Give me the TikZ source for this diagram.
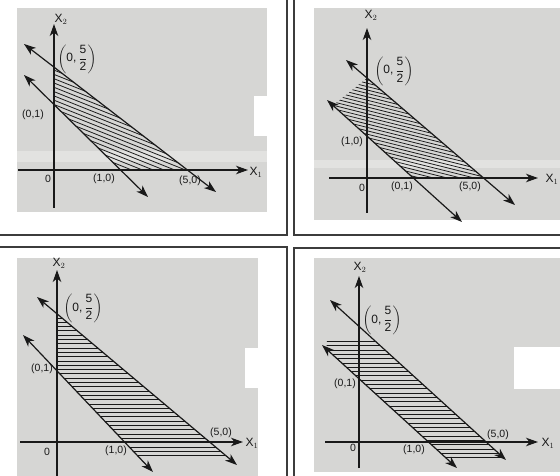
\documentclass[tikz,border=0pt]{standalone}
\usepackage{amsmath}
\usepackage{fontspec}
\setmainfont{Liberation Sans}
\usetikzlibrary{arrows.meta}
\definecolor{bgc}{RGB}{214,214,212}
\definecolor{bandc}{RGB}{226,226,224}
\definecolor{framec}{RGB}{60,60,60}
\definecolor{inkc}{RGB}{25,25,25}
\tikzset{
  tipx/.tip={Stealth[length=12pt,width=8.5pt,inset=3.5pt]},
  axisline/.style={line width=1.3pt,draw=inkc,-tipx},
  bndline/.style={line width=1.2pt,draw=inkc,tipx-tipx},
  hatchline/.style={line width=0.75pt,draw=inkc},
  framel/.style={line width=1.5pt,draw=framec},
  lab/.style={font=\fontsize{10.5}{11}\selectfont,inner sep=0pt,text=inkc},
  axlab/.style={font=\fontsize{12}{13}\selectfont,inner sep=0pt,text=inkc},
  fraclab/.style={font=\fontsize{12}{13}\selectfont,inner sep=0pt,text=inkc}
}
\newcommand{\fivehalf}{$\left(\text{0,}\,\dfrac{\text{5}}{\text{2}}\right)$}
\begin{document}
\begin{tikzpicture}[x=1pt,y=-1pt]
\useasboundingbox (0,0) rectangle (560,476);
\fill[white] (0,0) rectangle (560,476);
% ---------------- backgrounds ----------------
\fill[bgc] (17,8) rectangle (267,212);
\fill[bandc] (17,151) rectangle (267,162);
\fill[white] (254,96) rectangle (268,136);
\fill[bgc] (314,8) rectangle (560,220);
\fill[bandc] (314,160) rectangle (560,168);
\fill[bgc] (17,258) rectangle (258,476);
\fill[white] (245,348) rectangle (259,388);
\fill[bgc] (314,258) rectangle (560,472);
\fill[white] (514,347) rectangle (560,389);
% ---------------- frames ----------------
\draw[framel] (0,235) -- (287,235) -- (287,0);
\draw[framel] (560,235) -- (294,235) -- (294,0);
\draw[framel] (0,247) -- (287,247) -- (287,476);
\draw[framel] (560,248) -- (294,248) -- (294,476);

% ================= Panel 1 =================
\coordinate (a1b) at (54,208);
\coordinate (a1t) at (54,24);
\coordinate (a1l) at (18,170);
\coordinate (a1r) at (248,170);
\coordinate (o1s) at (24,44);
\coordinate (o1e) at (216,192);
\coordinate (i1s) at (24,75);
\coordinate (i1e) at (148,197);
\coordinate (p1a) at (intersection of o1s--o1e and a1b--a1t);
\coordinate (p1b) at (intersection of o1s--o1e and a1l--a1r);
\coordinate (p1c) at (intersection of i1s--i1e and a1l--a1r);
\coordinate (p1d) at (intersection of i1s--i1e and a1b--a1t);
\begin{scope}
\clip (p1a) -- (p1b) -- (p1c) -- (p1d) -- cycle;
\foreach \k in {-10,...,60} \draw[hatchline] (40,{\k*4.3}) -- ++(220,88);
\end{scope}
\draw[axisline] (a1b) -- (a1t);
\draw[axisline] (a1l) -- (a1r);
\draw[bndline] (o1s) -- (o1e);
\draw[bndline] (i1s) -- (i1e);
\node[axlab] (x2a) at (61,19) {X$_2$};
\node[axlab] (x1a) at (256,172) {X$_1$};
\node[fraclab] (f1) at (77,59) {\fivehalf};
\node[lab] (q1) at (33,115) {(0,1)};
\node[lab] (z1) at (48,179) {0};
\node[lab] (r1) at (104,179) {(1,0)};
\node[lab] (s1) at (190,181) {(5,0)};

% ================= Panel 2 =================
\coordinate (a2b) at (367,213);
\coordinate (a2t) at (367,28);
\coordinate (a2l) at (329,178);
\coordinate (a2r) at (538,178);
\coordinate (o2s) at (346,60);
\coordinate (o2e) at (515,205);
\coordinate (i2s) at (327,100);
\coordinate (i2e) at (462,222);
\coordinate (v2a) at (333,0);
\coordinate (v2b) at (333,300);
\coordinate (p2a) at (intersection of o2s--o2e and a2b--a2t);
\coordinate (p2b) at (intersection of o2s--o2e and a2l--a2r);
\coordinate (p2c) at (intersection of i2s--i2e and a2l--a2r);
\coordinate (p2d) at (intersection of i2s--i2e and v2a--v2b);
\begin{scope}
\clip (p2a) -- (p2b) -- (p2c) -- (p2d) -- cycle;
\foreach \k in {-10,...,70} \draw[hatchline] (320,{\k*3.4}) -- ++(220,55);
\end{scope}
\draw[axisline] (a2b) -- (a2t);
\draw[axisline] (a2l) -- (a2r);
\draw[bndline] (o2s) -- (o2e);
\draw[bndline] (i2s) -- (i2e);
\node[axlab] (x2b) at (371,15) {X$_2$};
\node[axlab] (x1b) at (552,179) {X$_1$};
\node[fraclab] (f2) at (394,71) {\fivehalf};
\node[lab] (q2) at (352,142) {(1,0)};
\node[lab] (z2) at (362,188) {0};
\node[lab] (r2) at (402,187) {(0,1)};
\node[lab] (s2) at (470,187) {(5,0)};

% ================= Panel 3 =================
\coordinate (a3b) at (57,476);
\coordinate (a3t) at (57,270);
\coordinate (a3l) at (20,442);
\coordinate (a3r) at (243,442);
\coordinate (o3s) at (37,297);
\coordinate (o3e) at (237,465);
\coordinate (i3s) at (23,335);
\coordinate (i3e) at (153,472);
\coordinate (h3l) at (0,457);
\coordinate (h3r) at (300,457);
\coordinate (p3a) at (intersection of o3s--o3e and a3b--a3t);
\coordinate (p3b) at (intersection of o3s--o3e and h3l--h3r);
\coordinate (p3c) at (intersection of i3s--i3e and h3l--h3r);
\coordinate (p3d) at (intersection of i3s--i3e and a3b--a3t);
\begin{scope}
\clip (p3a) -- (p3b) -- (p3c) -- (p3d) -- cycle;
\foreach \k in {0,...,40} \draw[hatchline] (40,{313.6+\k*4.3}) -- (260,{313.6+\k*4.3});
\end{scope}
\draw[axisline] (a3b) -- (a3t);
\draw[axisline] (a3l) -- (a3r);
\draw[bndline] (o3s) -- (o3e);
\draw[bndline] (i3s) -- (i3e);
\node[axlab] (x2c) at (59,263) {X$_2$};
\node[axlab] (x1c) at (252,443) {X$_1$};
\node[fraclab] (f3) at (83,308) {\fivehalf};
\node[lab] (q3) at (42,369) {(0,1)};
\node[lab] (z3) at (47,452) {0};
\node[lab] (r3) at (116,451) {(1,0)};
\node[lab] (s3) at (221,433) {(5,0)};

% ================= Panel 4 =================
\coordinate (a4b) at (359,468);
\coordinate (a4t) at (359,276);
\coordinate (a4l) at (325,442);
\coordinate (a4r) at (538,442);
\coordinate (o4s) at (330,300);
\coordinate (o4e) at (506,460);
\coordinate (i4s) at (322,345);
\coordinate (i4e) at (457,468);
\coordinate (h4a) at (300,341);
\coordinate (h4b) at (560,341);
\coordinate (h4c) at (300,458);
\coordinate (h4d) at (560,458);
\coordinate (h4e) at (300,349);
\coordinate (h4f) at (560,349);
\coordinate (p4a) at (intersection of o4s--o4e and h4a--h4b);
\coordinate (p4b) at (intersection of o4s--o4e and h4c--h4d);
\coordinate (p4c) at (intersection of i4s--i4e and h4c--h4d);
\coordinate (p4d) at (intersection of i4s--i4e and h4e--h4f);
\coordinate (p4e) at (327,341);
\begin{scope}
\clip (p4a) -- (p4b) -- (p4c) -- (p4d) -- (p4e) -- cycle;
\foreach \k in {0,...,40} \draw[hatchline] (300,{341.4+\k*4.3}) -- (560,{341.4+\k*4.3});
\end{scope}
\draw[axisline] (a4b) -- (a4t);
\draw[axisline] (a4l) -- (a4r);
\draw[bndline] (o4s) -- (o4e);
\draw[bndline] (i4s) -- (i4e);
\node[axlab] (x2d) at (360,267) {X$_2$};
\node[axlab] (x1d) at (548,443) {X$_1$};
\node[fraclab] (f4) at (382,320) {\fivehalf};
\node[lab] (q4) at (345,384) {(0,1)};
\node[lab] (z4) at (353,448) {0};
\node[lab] (r4) at (414,450) {(1,0)};
\node[lab] (s4) at (498,435) {(5,0)};
\end{tikzpicture}
\end{document}
